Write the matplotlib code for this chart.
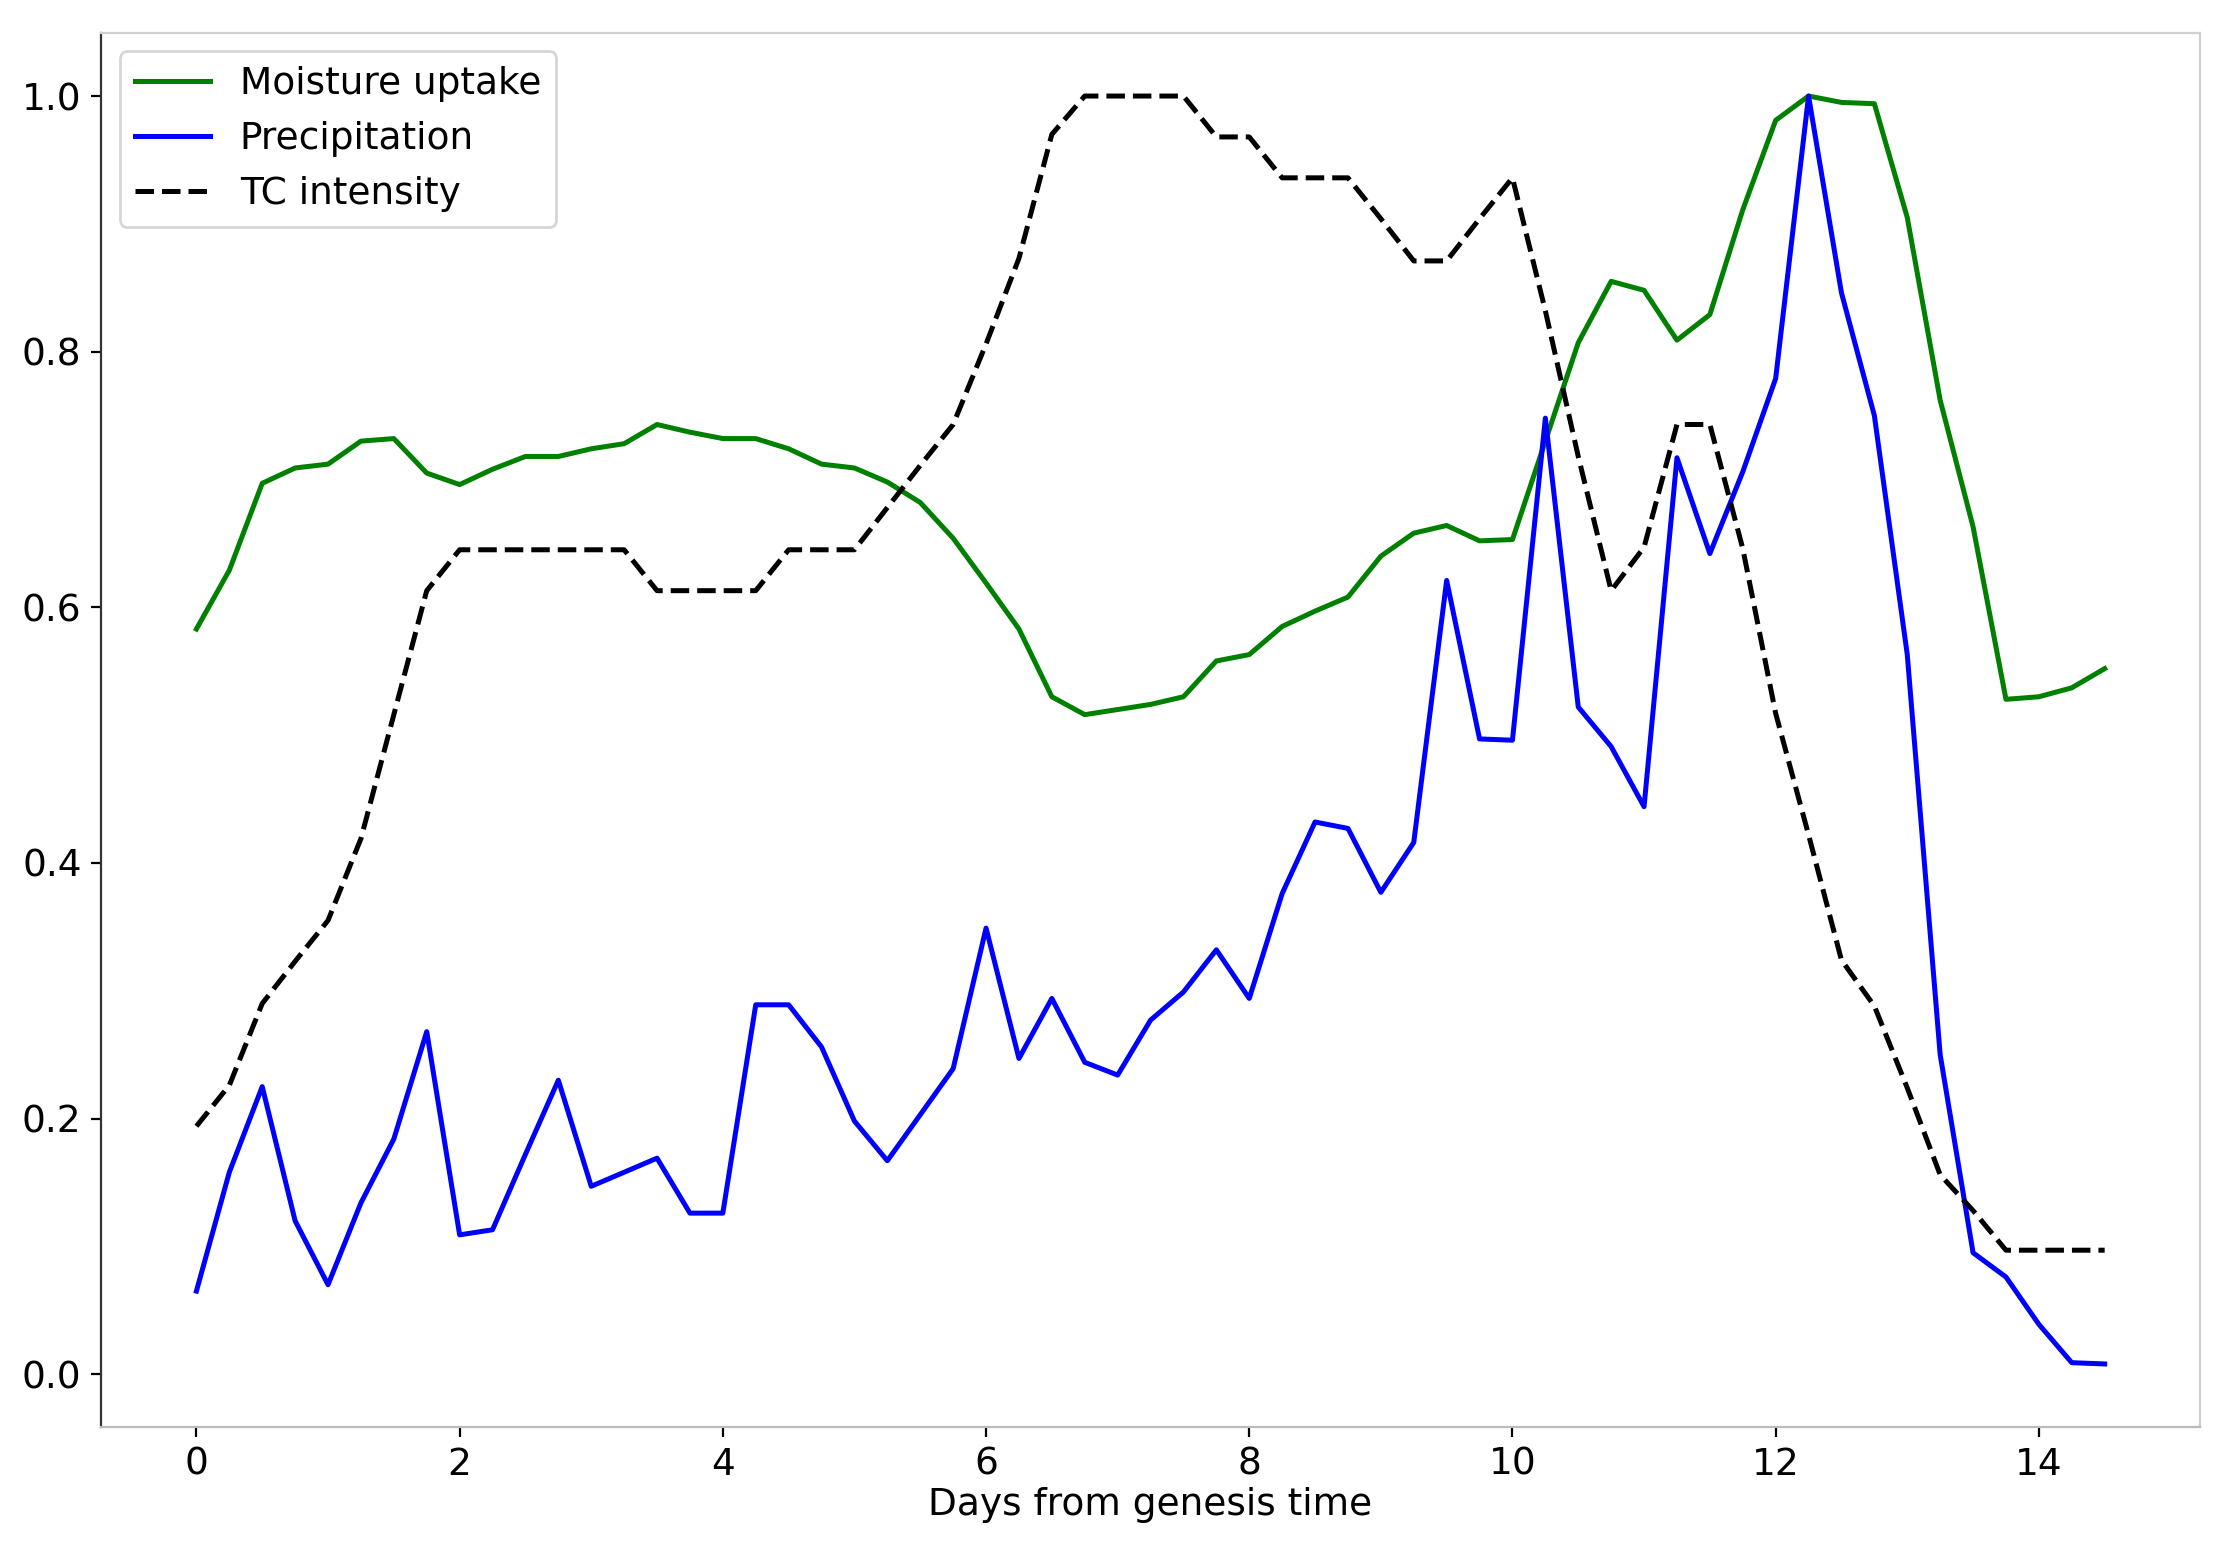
import matplotlib
matplotlib.use("Agg")
import matplotlib.pyplot as plt
import numpy as np

days = [i * 0.25 for i in range(59)]

moisture_uptake = [
    0.583, 0.629, 0.697, 0.709, 0.712, 0.730, 0.732, 0.705, 0.696, 0.708,
    0.718, 0.718, 0.724, 0.728, 0.743, 0.737, 0.732, 0.732, 0.724, 0.712,
    0.709, 0.698, 0.682, 0.654, 0.619, 0.583, 0.530, 0.516, 0.520, 0.524,
    0.530, 0.558, 0.563, 0.585, 0.597, 0.608, 0.640, 0.658, 0.664, 0.652,
    0.653, 0.730, 0.807, 0.855, 0.848, 0.809, 0.829, 0.911, 0.981, 1.000,
    0.995, 0.994, 0.905, 0.762, 0.663, 0.528, 0.530, 0.537, 0.552,
]

precipitation = [
    0.065, 0.158, 0.225, 0.120, 0.070, 0.134, 0.184, 0.268, 0.109, 0.113,
    0.172, 0.230, 0.147, 0.158, 0.169, 0.126, 0.126, 0.289, 0.289, 0.256,
    0.198, 0.167, 0.203, 0.239, 0.349, 0.247, 0.294, 0.244, 0.234, 0.277,
    0.299, 0.332, 0.294, 0.376, 0.432, 0.427, 0.377, 0.416, 0.621, 0.497,
    0.496, 0.748, 0.522, 0.491, 0.444, 0.717, 0.642, 0.706, 0.779, 1.000,
    0.846, 0.750, 0.563, 0.250, 0.095, 0.076, 0.039, 0.009, 0.008,
]

tc_intensity = [
    0.194, 0.226, 0.290, 0.323, 0.355, 0.419, 0.516, 0.613, 0.645, 0.645,
    0.645, 0.645, 0.645, 0.645, 0.613, 0.613, 0.613, 0.613, 0.645, 0.645,
    0.645, 0.678, 0.711, 0.743, 0.806, 0.873, 0.970, 1.000, 1.000, 1.000,
    1.000, 0.968, 0.968, 0.936, 0.936, 0.936, 0.904, 0.871, 0.871, 0.904,
    0.936, 0.832, 0.718, 0.613, 0.647, 0.743, 0.743, 0.646, 0.517, 0.422,
    0.324, 0.288, 0.224, 0.156, 0.128, 0.097, 0.097, 0.097, 0.097,
]

series_labels = ["Moisture uptake", "Precipitation", "TC intensity"]
x_label = "Days from genesis time"

FS = 13.5
LW = 1.8
fig = plt.figure(figsize=(11.125, 7.77), dpi=200)
ax = fig.add_axes([0.0454, 0.0815, 0.9434, 0.8975])

ax.plot(days, moisture_uptake, color="green", lw=LW, label=series_labels[0])
ax.plot(days, precipitation, color="blue", lw=LW, label=series_labels[1])
ax.plot(days, tc_intensity, color="black", lw=LW, ls="--", label=series_labels[2])

ax.set_xticks([0, 2, 4, 6, 8, 10, 12, 14])
ax.set_yticks([0.0, 0.2, 0.4, 0.6, 0.8, 1.0])
ax.tick_params(labelsize=FS)
ax.set_xlabel(x_label, fontsize=FS, labelpad=1.5)

for s in ["top", "right"]:
    ax.spines[s].set_color("#cfcfcf")
ax.spines["left"].set_color("#333333")
ax.spines["bottom"].set_color("#bbbbbb")

ax.legend(loc="upper left", fontsize=FS)

fig.savefig("out.png", dpi=200)
